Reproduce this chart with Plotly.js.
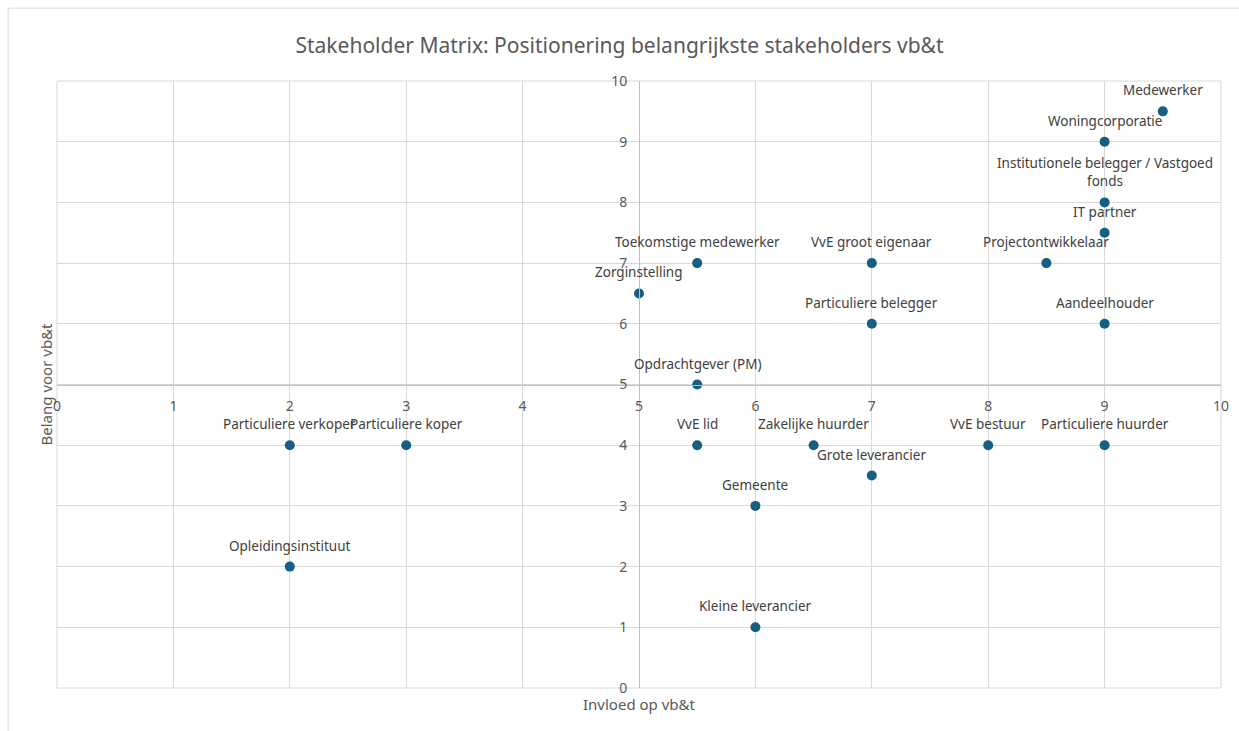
<!DOCTYPE html>
<html><head><meta charset="utf-8">
<script src="https://cdn.plot.ly/plotly-3.0.1.min.js"></script>
<style>html,body{margin:0;padding:0;background:#fff;}#chart{width:1239px;height:731px;}</style>
</head><body><div id="chart"></div>
<script>
const names = ["Medewerker","Woningcorporatie","Institutionele belegger / Vastgoed<br>fonds","IT partner","Projectontwikkelaar","Aandeelhouder","Particuliere huurder","VvE bestuur","VvE groot eigenaar","Particuliere belegger","Grote leverancier","Zakelijke huurder","Toekomstige medewerker","Zorginstelling","Opdrachtgever (PM)","VvE lid","Gemeente","Kleine leverancier","Particuliere verkoper","Particuliere koper","Opleidingsinstituut"];
const invloed = [9.5,9,9,9,8.5,9,9,8,7,7,7,6.5,5.5,5,5.5,5.5,6,6,2,3,2];
const belang = [9.5,9,8,7.5,7,6,4,4,7,6,3.5,4,7,6.5,5,4,3,1,4,4,2];
const tickVals = [0,1,2,3,4,5,6,7,8,9,10];

const font = "Noto Sans, Lato, sans-serif";
const trace = {
  type: 'scatter', mode: 'markers',
  x: invloed, y: belang, text: names,
  marker: {color: '#145f82', size: 10},
  hoverinfo: 'x+y+text', cliponaxis: false
};
const labelAnns = names.map((n, i) => ({
  text: n, x: invloed[i], y: belang[i], xref: 'x', yref: 'y',
  yanchor: 'bottom', xanchor: 'center', yshift: 10, showarrow: false,
  font: {family: font, size: 13.5, color: '#404040'}
}));
const layout = {
  width: 1239, height: 731,
  margin: {l: 57, r: 18, t: 81, b: 43},
  paper_bgcolor: '#fff', plot_bgcolor: '#fff',
  showlegend: false,
  font: {family: font, color: '#595959'},
  title: {text: 'Stakeholder Matrix: Positionering belangrijkste stakeholders vb&t', x: 0.5, xanchor: 'center', y: 0.937, yanchor: 'middle', font: {family: font, size: 21, color: '#595959'}},
  xaxis: {range: [0,10], tickvals: tickVals, ticktext: tickVals.map(String), anchor: 'free', position: 0.5,
    showgrid: true, gridcolor: '#d9d9d9', gridwidth: 1, zeroline: false, showline: true, linecolor: '#bfbfbf', linewidth: 1,
    ticks: '', ticklen: 0, ticklabelstandoff: 9, tickfont: {family: font, size: 14, color: '#595959'}, mirror: false, fixedrange: true},
  yaxis: {range: [0,10], tickvals: tickVals, ticktext: tickVals.map(String), anchor: 'free', position: 0.5,
    showgrid: true, gridcolor: '#d9d9d9', gridwidth: 1, zeroline: false, showline: true, linecolor: '#bfbfbf', linewidth: 1,
    ticks: '', ticklen: 0, ticklabelstandoff: 9, tickfont: {family: font, size: 14, color: '#595959'}, fixedrange: true},
  shapes: [
    {type: 'rect', xref: 'paper', yref: 'paper', x0: 0, x1: 1, y0: 0, y1: 1, line: {color: '#d9d9d9', width: 1}, layer: 'below'},
    {type: 'line', xref: 'paper', yref: 'paper', x0: -0.042, x1: -0.042, y0: -0.08, y1: 1.12, line: {color: '#d9d9d9', width: 1}},
    {type: 'line', xref: 'paper', yref: 'paper', x0: -0.042, x1: 1.03, y0: 1.12, y1: 1.12, line: {color: '#d9d9d9', width: 1}}
  ],
  annotations: labelAnns.concat([
    {text: 'Invloed op vb&t', xref: 'paper', yref: 'paper', x: 0.5, y: 0, yshift: -16, xanchor: 'center', yanchor: 'middle', showarrow: false, font: {family: font, size: 15, color: '#595959'}},
    {text: 'Belang voor vb&t', xref: 'paper', yref: 'paper', x: 0, xshift: -12, y: 0.5, textangle: -90, xanchor: 'center', yanchor: 'middle', showarrow: false, font: {family: font, size: 15, color: '#595959'}}
  ])
};
Plotly.newPlot('chart', [trace], layout, {displayModeBar: false, staticPlot: true});
</script></body></html>
